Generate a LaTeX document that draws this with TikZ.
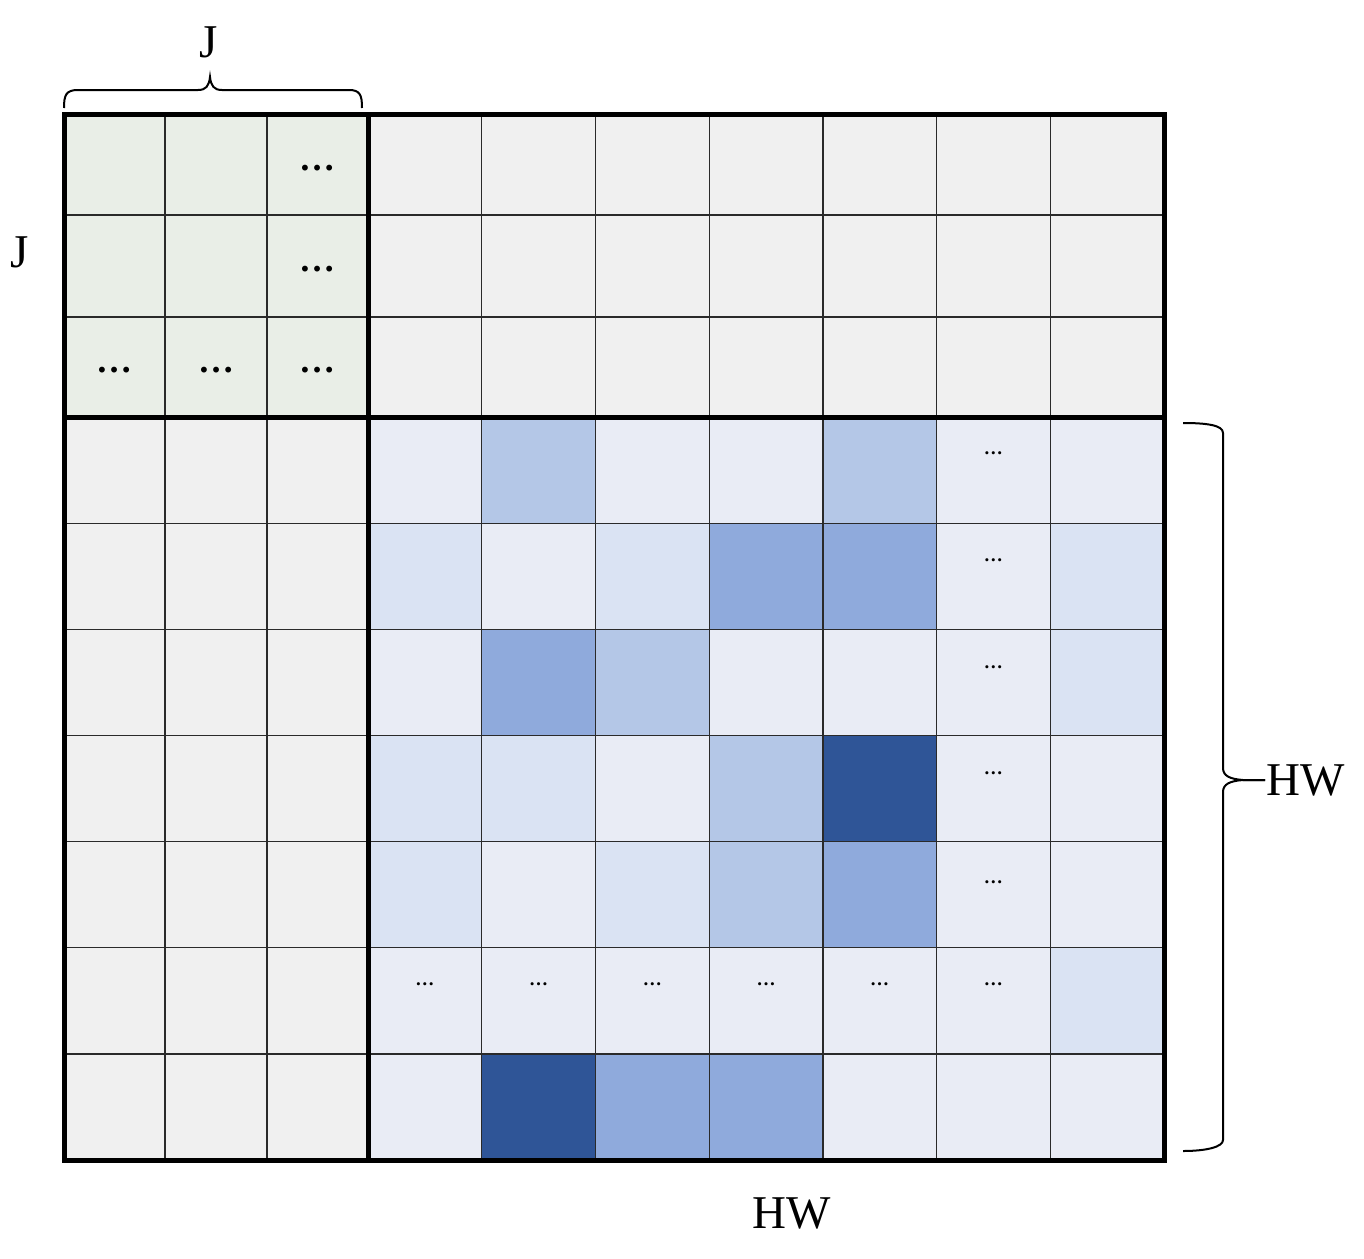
\documentclass[tikz,border=0pt]{standalone}
\usepackage{fontspec}
\setmainfont{Liberation Serif}
\definecolor{cgreen}{HTML}{E9EEE7}
\definecolor{cgray}{HTML}{F0F0F0}
\definecolor{cbg}{HTML}{E9ECF5}
\definecolor{clight}{HTML}{DAE3F3}
\definecolor{cmed}{HTML}{B4C7E7}
\definecolor{cdeep}{HTML}{8FAADC}
\definecolor{cdark}{HTML}{2F5597}
\definecolor{cline}{HTML}{2A2A2A}
\begin{document}
\begin{tikzpicture}[x=1pt,y=-1pt,
  thinline/.style={draw=cline,line width=1.3pt},
  thickline/.style={draw=black,line width=5pt},
  bracestyle/.style={draw=black,line width=2pt},
  bigdots/.style={inner sep=0pt,font=\bfseries\fontsize{36}{36}\selectfont},
  smalldots/.style={inner sep=0pt,font=\bfseries\fontsize{19}{19}\selectfont},
  lbl/.style={inner sep=0pt,font=\fontsize{47}{47}\selectfont}]
\useasboundingbox (0,0) rectangle (1364,1258);
\def\cw{113.714}
\def\rh{106.143}
\newcommand\bcell[3]{\fill[#3] ({368+#1*\cw},{417+#2*\rh}) rectangle ({368+(#1+1)*\cw},{417+(#2+1)*\rh});}
% background blocks
\fill[cgreen] (64,114) rectangle (368,417);
\fill[cgray] (368,114) rectangle (1164,417);
\fill[cgray] (64,417) rectangle (368,1160);
\fill[cbg] (368,417) rectangle (1164,1160);
% medium
\foreach \c/\r in {1/0,4/0,2/2,3/3,3/4}{\bcell{\c}{\r}{cmed}}
% light
\foreach \c/\r in {0/1,2/1,6/1,6/2,0/3,1/3,0/4,2/4,6/5}{\bcell{\c}{\r}{clight}}
% deep
\foreach \c/\r in {3/1,4/1,1/2,4/4,2/6,3/6}{\bcell{\c}{\r}{cdeep}}
% dark
\foreach \c/\r in {4/3,1/6}{\bcell{\c}{\r}{cdark}}
% thin grid lines
\foreach \x in {165,267}{\draw[thinline] (\x,114) -- (\x,1160);}
\foreach \k in {1,...,6}{\draw[thinline] ({368+\k*\cw},114) -- ({368+\k*\cw},1160);}
\foreach \y in {215,317}{\draw[thinline] (64,\y) -- (1164,\y);}
\foreach \k in {1,...,6}{\draw[thinline] (64,{417+\k*\rh}) -- (1164,{417+\k*\rh});}
% thick lines
\draw[thickline] (64,114) rectangle (1164,1160);
\draw[thickline] (368,114) -- (368,1160);
\draw[thickline] (64,417) -- (1164,417);
% dots top-left
\node[bigdots] (tl1) at (317,168) {…};
\node[bigdots] (tl2) at (317,269) {…};
\node[bigdots] (tl3) at (114,370) {…};
\node[bigdots] (tl4) at (216,370) {…};
\node[bigdots] (tl5) at (317,370) {…};
% dots blue block, column 5
\foreach \r/\yy in {0/453,1/560,2/667,3/773,4/882}{
  \node[smalldots] (cd\r) at ({368+5.5*\cw},\yy) {…};}
% dots blue block, row 5
\foreach \c in {0,...,5}{
  \node[smalldots] (rd\c) at ({368+(\c+0.5)*\cw},984) {…};}
% braces
\draw[bracestyle] (64,108) .. controls (64,95) and (66,90) .. (78,90) -- (198,90)
  .. controls (206,90) and (209,86) .. (210,77)
  .. controls (211,86) and (214,90) .. (222,90) -- (349,90)
  .. controls (360,90) and (362,95) .. (362,108);
\draw[bracestyle] (1183,423) .. controls (1206,423) and (1223,425) .. (1223,433) -- (1223,768)
  .. controls (1223,776) and (1230,779) .. (1243,780) -- (1265,780);
\draw[bracestyle] (1265,780) -- (1243,780)
  .. controls (1230,781) and (1223,784) .. (1223,792) -- (1223,1140)
  .. controls (1223,1147) and (1206,1151) .. (1183,1151);
% labels
\node[lbl] (jtop) at (209,42) {J};
\node[lbl] (jleft) at (20,252) {J};
\node[lbl,anchor=west] (hwright) at (1266,780) {HW};
\node[lbl] (hwbottom) at (792,1213) {HW};
\end{tikzpicture}
\end{document}
